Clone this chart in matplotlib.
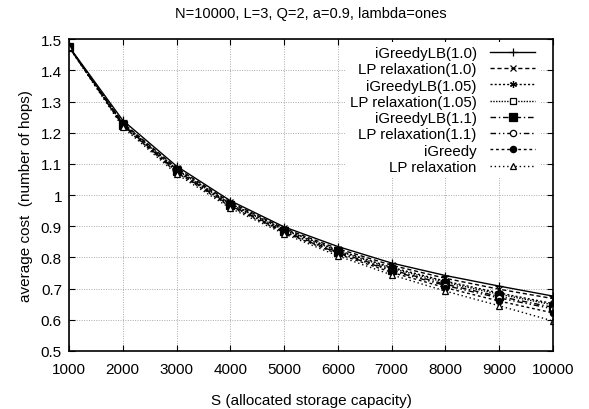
import matplotlib
matplotlib.use("Agg")
import matplotlib.pyplot as plt

plt.rcParams['font.family'] = ['Liberation Sans', 'DejaVu Sans']

S = [1000, 2000, 3000, 4000, 5000, 6000, 7000, 8000, 9000, 10000]
labels = ["iGreedyLB(1.0)", "LP relaxation(1.0)", "iGreedyLB(1.05)", "LP relaxation(1.05)",
          "iGreedyLB(1.1)", "LP relaxation(1.1)", "iGreedy", "LP relaxation"]
igreedylb_10 = [1.477, 1.240, 1.093, 0.982, 0.898, 0.835, 0.782, 0.742, 0.708, 0.676]
lp_10 = [1.475, 1.232, 1.087, 0.977, 0.893, 0.828, 0.775, 0.733, 0.698, 0.668]
igreedylb_105 = [1.476, 1.230, 1.083, 0.973, 0.890, 0.823, 0.768, 0.724, 0.686, 0.652]
lp_105 = [1.475, 1.228, 1.081, 0.971, 0.888, 0.821, 0.765, 0.720, 0.682, 0.648]
igreedylb_11 = [1.476, 1.226, 1.078, 0.968, 0.884, 0.817, 0.760, 0.714, 0.675, 0.640]
lp_11 = [1.475, 1.224, 1.076, 0.966, 0.882, 0.814, 0.757, 0.710, 0.670, 0.635]
igreedy = [1.476, 1.222, 1.073, 0.963, 0.880, 0.811, 0.752, 0.703, 0.660, 0.622]
lp = [1.475, 1.218, 1.068, 0.958, 0.876, 0.805, 0.744, 0.692, 0.645, 0.596]
series = [igreedylb_10, lp_10, igreedylb_105, lp_105, igreedylb_11, lp_11, igreedy, lp]
xticks = [1000, 2000, 3000, 4000, 5000, 6000, 7000, 8000, 9000, 10000]
yticks = [0.5, 0.6, 0.7, 0.8, 0.9, 1.0, 1.1, 1.2, 1.3, 1.4, 1.5]
yticklabels = ["0.5", "0.6", "0.7", "0.8", "0.9", "1", "1.1", "1.2", "1.3", "1.4", "1.5"]

styles = [
    dict(ls='-', marker='+', ms=6, mfc='black'),
    dict(ls=(0, (3, 2)), marker='x', ms=4, mfc='black'),
    dict(ls=(0, (1.5, 1.5)), marker=(6, 2, 0), ms=5, mfc='black'),
    dict(ls=(0, (1, 1)), marker='s', ms=4.5, mfc='white'),
    dict(ls=(0, (4, 2, 1, 2)), marker='s', ms=5.5, mfc='black'),
    dict(ls=(0, (4, 2, 1, 2, 1, 2)), marker='o', ms=4.5, mfc='white'),
    dict(ls=(0, (2, 2)), marker='o', ms=4.5, mfc='black'),
    dict(ls=(0, (1, 2)), marker='^', ms=4.5, mfc='white'),
]

fig = plt.figure(figsize=(5.89, 4.10), dpi=100)
ax = fig.add_axes([0.117, 0.1415, 0.822, 0.7605])

for vals, lab, st in zip(series, labels, styles):
    ax.plot(S, vals, color='black', lw=1.0, ls=st['ls'], marker=st['marker'],
            ms=st['ms'], mfc=st['mfc'], mec='black', mew=0.9, label=lab)

ax.set_xlim(1000, 10000)
ax.set_ylim(0.5, 1.5)
ax.set_xticks(xticks)
ax.set_xticklabels([str(t) for t in xticks])
ax.set_yticks(yticks)
ax.set_yticklabels(yticklabels)
ax.tick_params(direction='in', top=True, right=True, labelsize=11, length=4)
ax.tick_params(axis='x', pad=8)
ax.tick_params(axis='y', pad=5)
ax.grid(True, color='#aaaaaa', ls=(0, (1, 1.5)), lw=0.7)
for sp in ax.spines.values():
    sp.set_linewidth(1.2)

ax.set_title("N=10000, L=3, Q=2, a=0.9, lambda=ones", fontsize=10.5, pad=16)
ax.set_xlabel("S (allocated storage capacity)", fontsize=11, labelpad=12)
ax.set_ylabel("average cost  (number of hops)", fontsize=11, labelpad=6)

leg = ax.legend(loc='upper right', bbox_to_anchor=(0.988, 1.016), markerfirst=False,
                fontsize=10.8, handlelength=3.0, handletextpad=0.9, labelspacing=0.15,
                borderpad=0.3, frameon=True, fancybox=False)
leg.get_frame().set_edgecolor('none')
leg.get_frame().set_facecolor('white')
leg.get_frame().set_alpha(1.0)

fig.savefig("out.png", dpi=100)
